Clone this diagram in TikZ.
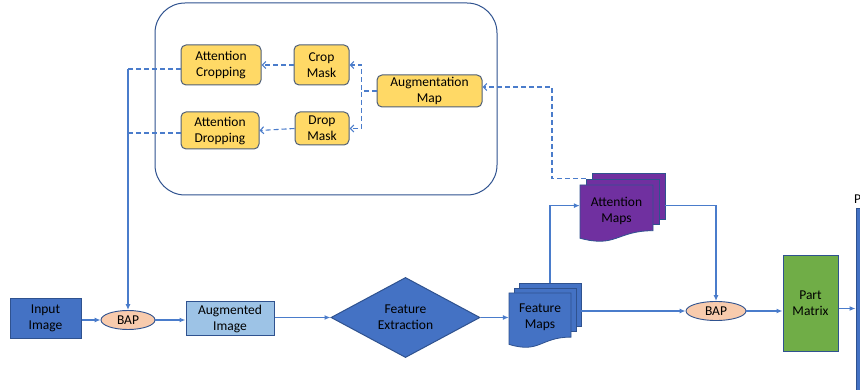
\documentclass[tikz,border=0pt]{standalone}
\usepackage{fontspec}
\setmainfont{Carlito}
\usepackage{tikz}
\usepackage{xcolor}
\usetikzlibrary{
    arrows.meta,
    shapes.geometric,
    calc
}
\definecolor{officeblue}{HTML}{4472C4}
\definecolor{darkline}{HTML}{2F528F}
\definecolor{connblue}{HTML}{4A7CCB}
\definecolor{boxyellow}{HTML}{FFD966}
\definecolor{boxedge}{HTML}{4F5F78}
\definecolor{lightblue}{HTML}{9DC3E6}
\definecolor{bapfill}{HTML}{F8CBAD}
\definecolor{mappurple}{HTML}{7030A0}
\definecolor{partgreen}{HTML}{70AD47}

\tikzset{
    every node/.style={font=\fontsize{13.5}{16}\selectfont, align=center, inner sep=0pt},
    bluebox/.style={draw=darkline, fill=officeblue, line width=1pt},
    lightbox/.style={draw=darkline, fill=lightblue, line width=1pt},
    yellowbox/.style={draw=boxedge, fill=boxyellow, line width=1pt, rounded corners=5pt},
    bapnode/.style={ellipse, draw=darkline, fill=bapfill, line width=0.9pt},
    conn/.style={draw=connblue, line width=1.2pt, -{Latex[length=6pt,width=5pt]}},
    dashconn/.style={draw=connblue, line width=1.1pt, dash pattern=on 5pt off 3pt,
        -{Straight Barb[length=3.5pt,width=7pt]}},
    dashline/.style={draw=connblue, line width=1.1pt, dash pattern=on 5pt off 3pt}
}

% name, x, y, w, h, offset, fill, text
\newcommand{\stackdoc}[8]{
    \filldraw[fill=#7, draw=darkline, line width=0.8pt]
        (#2+2*#6, #3-2*#6) rectangle (#2+#4+2*#6, #3+0.6*#5);
    \filldraw[fill=#7, draw=darkline, line width=0.8pt]
        (#2+#6, #3-#6) rectangle (#2+#4+#6, #3+0.7*#5);
    \filldraw[fill=#7, draw=darkline, line width=0.8pt]
        (#2, #3) -- (#2+#4, #3) -- (#2+#4, #3+0.802*#5)
        .. controls (#2+0.5*#4, #3+0.802*#5) and (#2+0.5*#4, #3+1.107*#5) .. (#2, #3+0.934*#5)
        -- cycle;
    \node[minimum width=#4+2*#6, minimum height=0.934*#5+2*#6]
        (#1) at (#2+0.5*#4+#6, #3-#6+0.467*#5) {};
    \node (#1-txt) at (#2+0.5*#4, #3+0.45*#5) {#8};
}

\begin{document}
\begin{tikzpicture}[x=1pt, y=-1pt]
    \clip (0,0) rectangle (860,390);
    \fill[white] (0,0) rectangle (860,390);

    \node[draw=darkline, line width=1pt, rounded corners=30pt, minimum width=342, minimum height=192]
        (augbox) at (326,99) {};

    \node[yellowbox, minimum width=80, minimum height=40] (attcrop) at (221,65) {Attention\\Cropping};
    \node[yellowbox, minimum width=55, minimum height=40] (cropmask) at (321.5,65) {Crop\\Mask};
    \node[yellowbox, minimum width=105, minimum height=32] (augmap) at (429.5,91) {Augmentation\\Map};
    \node[yellowbox, minimum width=78, minimum height=37] (attdrop) at (220,130.5) {Attention\\Dropping};
    \node[yellowbox, minimum width=54, minimum height=33] (dropmask) at (322,128.5) {Drop\\Mask};

    \node[bluebox, minimum width=71, minimum height=39] (inimg) at (45.5,318.5) {Input\\Image};
    \node[bapnode, minimum width=54, minimum height=19] (bapa) at (128,320) {BAP};
    \node[lightbox, minimum width=88, minimum height=33] (augimg) at (230,318.5) {Augmented\\Image};
    \node[diamond, draw=darkline, fill=officeblue, line width=1pt, minimum width=149, minimum height=79]
        (featext) at (405.5,317.5) {Feature\\Extraction};

    \stackdoc{fmaps}{509}{293}{62}{55}{5}{officeblue}{Feature\\Maps}
    \stackdoc{amaps}{580}{185}{73}{57}{6}{mappurple}{Attention\\Maps}

    \node[bapnode, minimum width=60, minimum height=19] (bapb) at (716,311) {BAP};
    \node[draw=darkline, fill=partgreen, line width=1pt, minimum width=55, minimum height=95]
        (partmat) at (810.5,303.5) {Part\\Matrix};
    \node[bluebox, minimum width=14, minimum height=190] (outbar) at (863,304) {};
    \node[anchor=west] (outlbl) at (854,199) {P};

    \coordinate (cropend) at (128,69);
    \coordinate (dropend) at (128,133);
    \coordinate (mapturn) at (552,87);

    \draw[dashconn] (augmap.west) -- ++(-15,0) |- (cropmask.east);
    \draw[dashconn] (augmap.west) -- ++(-15,0) |- (dropmask.east);
    \draw[dashconn] (cropmask.west) -- (attcrop.east);
    \draw[dashconn] (dropmask.west) -- (attdrop.east);
    \draw[dashline] (attcrop.west |- cropend) -- (cropend);
    \draw[dashline] (attdrop.west |- dropend) -- (dropend);
    \draw[conn] (cropend) -- (bapa.north);

    \draw[conn] (inimg.east |- bapa.west) -- (bapa.west);
    \draw[conn] (bapa.east) -- (augimg.west |- bapa.east);
    \draw[conn] (augimg.east |- featext.west) -- (featext.west);
    \draw[conn] (featext.east) -- (featext.east -| fmaps.west);
    \draw[conn] (fmaps.east |- bapb.west) -- (bapb.west);
    \draw[conn] ([xshift=5pt]fmaps.north) |- (amaps.west);
    \draw[conn] (amaps.east) -| (bapb.north);
    \draw[conn] (bapb.east) -- (partmat.west |- bapb.east);
    \draw[conn] ([yshift=-5pt]partmat.east) -- ([yshift=-5pt]partmat.east -| outbar.west);
    \draw[dashconn] ([xshift=6pt,yshift=-6pt]amaps.north west) -| (mapturn) -- (mapturn -| augmap.east);
\end{tikzpicture}
\end{document}
